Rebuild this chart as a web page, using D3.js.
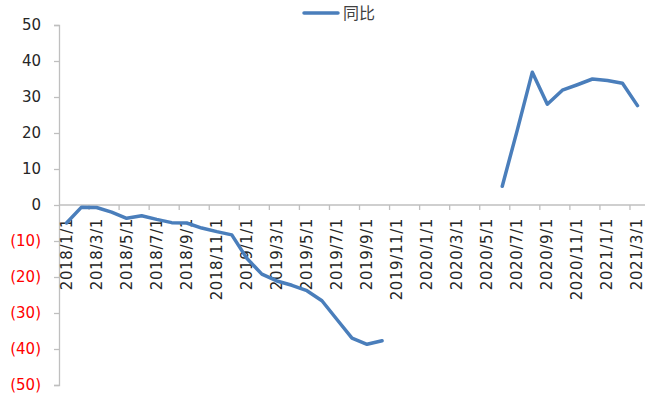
<!DOCTYPE html>
<html>
<head>
<meta charset="utf-8">
<script src="https://cdn.jsdelivr.net/npm/d3@7"></script>
<style>
  html, body { margin: 0; padding: 0; background: #ffffff; }
  svg { display: block; }
</style>
</head>
<body>
<svg id="chart" width="657" height="395"></svg>
<script>
// Monthly categories, 2018/1 through 2021/3
const months = [
  "2018/1/1","2018/2/1","2018/3/1","2018/4/1","2018/5/1","2018/6/1",
  "2018/7/1","2018/8/1","2018/9/1","2018/10/1","2018/11/1","2018/12/1",
  "2019/1/1","2019/2/1","2019/3/1","2019/4/1","2019/5/1","2019/6/1",
  "2019/7/1","2019/8/1","2019/9/1","2019/10/1","2019/11/1","2019/12/1",
  "2020/1/1","2020/2/1","2020/3/1","2020/4/1","2020/5/1","2020/6/1",
  "2020/7/1","2020/8/1","2020/9/1","2020/10/1","2020/11/1","2020/12/1",
  "2021/1/1","2021/2/1","2021/3/1"
];

// Year-on-year change (%); null where no figure was reported
const yoy = [
  -5.0, -0.6, -0.7, -2.0, -3.7, -3.0,
  -4.0, -4.9, -5.0, -6.4, -7.4, -8.3,
  -14.8, -19.2, -21.1, -22.3, -23.8, -26.6,
  -31.8, -37.0, -38.7, -37.7, null, null,
  null, null, null, null, null, 5.2,
  20.8, 36.9, 28.0, 31.9, 33.4, 35.0,
  34.6, 33.8, 27.6
];

const yTicks = [50, 40, 30, 20, 10, 0, -10, -20, -30, -40, -50];
const seriesName = "同比";

const svg = d3.select("#chart");
const plot = { left: 59, right: 645, top: 25, bottom: 385 };
const axisColor = "#bfbfbf";
const lineColor = "#4a7ebb";

const x = d3.scaleBand().domain(months).range([plot.left, plot.right]).padding(0);
const y = d3.scaleLinear().domain([-50, 50]).range([plot.bottom, plot.top]);

// Y axis with accounting-style negatives
const fmt = v => v < 0 ? "(" + Math.abs(v) + ")" : String(v);
const yAxis = svg.append("g")
  .attr("transform", `translate(${plot.left},0)`)
  .call(d3.axisLeft(y).tickValues(yTicks).tickFormat(fmt).tickSize(5).tickPadding(13));
yAxis.select(".domain").attr("stroke", axisColor).attr("stroke-width", 1.3);
yAxis.selectAll(".tick line").attr("stroke", axisColor).attr("stroke-width", 1.3);
yAxis.selectAll(".tick text")
  .attr("font-family", "DejaVu Sans, sans-serif")
  .attr("font-size", 15)
  .attr("fill", d => d < 0 ? "#ff0000" : "#262626");

// X axis sits on the zero line; ticks every second month
const tickMonths = months.filter((m, i) => i % 2 === 0);
const xAxis = svg.append("g")
  .attr("transform", `translate(0,${y(0)})`);
xAxis.append("line")
  .attr("x1", plot.left).attr("x2", plot.right)
  .attr("y1", 0).attr("y2", 0)
  .attr("stroke", axisColor).attr("stroke-width", 1.3);
xAxis.selectAll("line.tick")
  .data(tickMonths.slice(1))
  .join("line")
  .attr("class", "tick")
  .attr("x1", d => x(d)).attr("x2", d => x(d))
  .attr("y1", 0).attr("y2", 5)
  .attr("stroke", axisColor).attr("stroke-width", 1.3);
xAxis.selectAll("text")
  .data(tickMonths)
  .join("text")
  .attr("transform", d => `translate(${x(d) + x.bandwidth() / 2 + 5},13) rotate(-90)`)
  .attr("text-anchor", "end")
  .attr("font-family", "DejaVu Sans, sans-serif")
  .attr("font-size", 15)
  .attr("letter-spacing", 0.6)
  .attr("fill", "#262626")
  .text(d => d);

// Series line, broken across the missing months
const pts = months.map((m, i) => ({ m, v: yoy[i] }));
const line = d3.line()
  .defined(d => d.v !== null)
  .x(d => x(d.m) + x.bandwidth() / 2)
  .y(d => y(d.v));
svg.append("path")
  .datum(pts)
  .attr("d", line)
  .attr("fill", "none")
  .attr("stroke", lineColor)
  .attr("stroke-width", 3.5)
  .attr("stroke-linejoin", "round")
  .attr("stroke-linecap", "round");

// Legend
const legend = svg.append("g").attr("transform", "translate(304,13)");
legend.append("line")
  .attr("x1", 0).attr("x2", 34).attr("y1", 0).attr("y2", 0)
  .attr("stroke", lineColor).attr("stroke-width", 3.5)
  .attr("stroke-linecap", "round");
legend.append("text")
  .attr("x", 39).attr("y", 6)
  .attr("font-family", "Noto Sans CJK SC, sans-serif")
  .attr("font-size", 16)
  .attr("fill", "#404040")
  .text(seriesName);
</script>
</body>
</html>
